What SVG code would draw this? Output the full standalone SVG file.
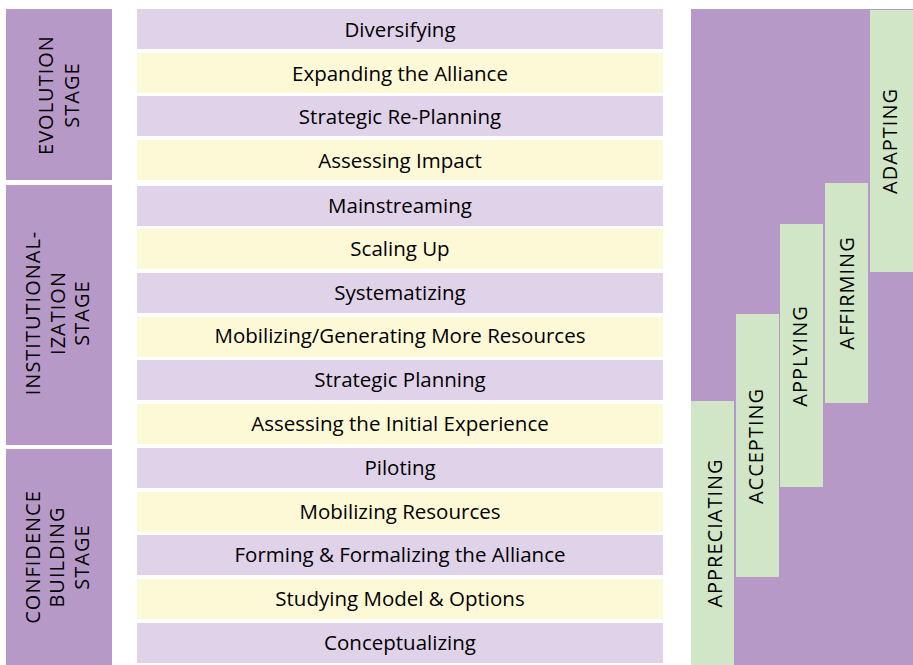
<svg xmlns="http://www.w3.org/2000/svg" width="913" height="665" viewBox="0 0 913 665">
<style>
.stage{fill:#B799C7}
.lp{fill:#E0D3E9}
.yl{fill:#FDF9D7}
.gr{fill:#D0E6C7}
.t{font-family:"Open Sans","Liberation Sans",sans-serif;font-size:20.5px;fill:#000;text-anchor:middle}
.v{font-family:"Open Sans","Liberation Sans",sans-serif;font-size:20px;fill:#000;text-anchor:middle;letter-spacing:1px}
</style>
<rect width="913" height="665" fill="#fff"/>
<g id="stage-evolution">
<rect class="stage" x="6" y="9" width="106" height="171"/>
<text class="v" transform="translate(53,95) rotate(-90)">EVOLUTION</text>
<text class="v" transform="translate(79,95) rotate(-90)">STAGE</text>
</g>
<g id="stage-institutionalization">
<rect class="stage" x="6" y="185" width="106" height="260"/>
<text class="v" transform="translate(40,313) rotate(-90)">INSTITUTIONAL-</text>
<text class="v" transform="translate(65,313) rotate(-90)">IZATION</text>
<text class="v" transform="translate(89,313) rotate(-90)">STAGE</text>
</g>
<g id="stage-confidence">
<rect class="stage" x="6" y="449" width="106" height="216"/>
<text class="v" transform="translate(40,557) rotate(-90)">CONFIDENCE</text>
<text class="v" transform="translate(64,557) rotate(-90)">BUILDING</text>
<text class="v" transform="translate(89,557) rotate(-90)">STAGE</text>
</g>
<g id="step-diversifying"><rect class="lp" x="137" y="9" width="526" height="40"/><text class="t" x="400" y="36.5">Diversifying</text></g>
<g id="step-expanding"><rect class="yl" x="137" y="53" width="526" height="40"/><text class="t" x="400" y="80.5">Expanding the Alliance</text></g>
<g id="step-replanning"><rect class="lp" x="137" y="96" width="526" height="40"/><text class="t" x="400" y="123.5">Strategic Re-Planning</text></g>
<g id="step-assessing-impact"><rect class="yl" x="137" y="140" width="526" height="40"/><text class="t" x="400" y="167.5">Assessing Impact</text></g>
<g id="step-mainstreaming"><rect class="lp" x="137" y="186" width="526" height="40"/><text class="t" x="400" y="213">Mainstreaming</text></g>
<g id="step-scaling"><rect class="yl" x="137" y="229" width="526" height="40"/><text class="t" x="400" y="256">Scaling Up</text></g>
<g id="step-systematizing"><rect class="lp" x="137" y="273" width="526" height="40"/><text class="t" x="400" y="300">Systematizing</text></g>
<g id="step-mobilizing-more"><rect class="yl" x="137" y="317" width="526" height="40"/><text class="t" x="400" y="343">Mobilizing/Generating More Resources</text></g>
<g id="step-strategic-planning"><rect class="lp" x="137" y="360" width="526" height="40"/><text class="t" x="400" y="387">Strategic Planning</text></g>
<g id="step-assessing-initial"><rect class="yl" x="137" y="404" width="526" height="40"/><text class="t" x="400" y="431">Assessing the Initial Experience</text></g>
<g id="step-piloting"><rect class="lp" x="137" y="448" width="526" height="40"/><text class="t" x="400" y="475">Piloting</text></g>
<g id="step-mobilizing"><rect class="yl" x="137" y="492" width="526" height="40"/><text class="t" x="400" y="519">Mobilizing Resources</text></g>
<g id="step-forming"><rect class="lp" x="137" y="535" width="526" height="40"/><text class="t" x="400" y="562">Forming &amp; Formalizing the Alliance</text></g>
<g id="step-studying"><rect class="yl" x="137" y="579" width="526" height="40"/><text class="t" x="400" y="606">Studying Model &amp; Options</text></g>
<g id="step-conceptualizing"><rect class="lp" x="137" y="623" width="526" height="40"/><text class="t" x="400" y="650">Conceptualizing</text></g>
<g id="stairs-background"><rect class="stage" x="691" y="9" width="222" height="656"/></g>
<g id="phase-appreciating"><rect class="gr" x="691" y="401" width="43" height="264"/><text class="v" transform="translate(722,533) rotate(-90)">APPRECIATING</text></g>
<g id="phase-accepting"><rect class="gr" x="736" y="314" width="43" height="263"/><text class="v" transform="translate(763,446) rotate(-90)">ACCEPTING</text></g>
<g id="phase-applying"><rect class="gr" x="780" y="224" width="43" height="263"/><text class="v" transform="translate(807,356) rotate(-90)">APPLYING</text></g>
<g id="phase-affirming"><rect class="gr" x="825" y="183" width="43" height="220"/><text class="v" transform="translate(854,293) rotate(-90)">AFFIRMING</text></g>
<g id="phase-adapting"><rect class="gr" x="870" y="10" width="43" height="262"/><text class="v" transform="translate(897,141) rotate(-90)">ADAPTING</text></g>
<g id="connectors"></g>
</svg>
